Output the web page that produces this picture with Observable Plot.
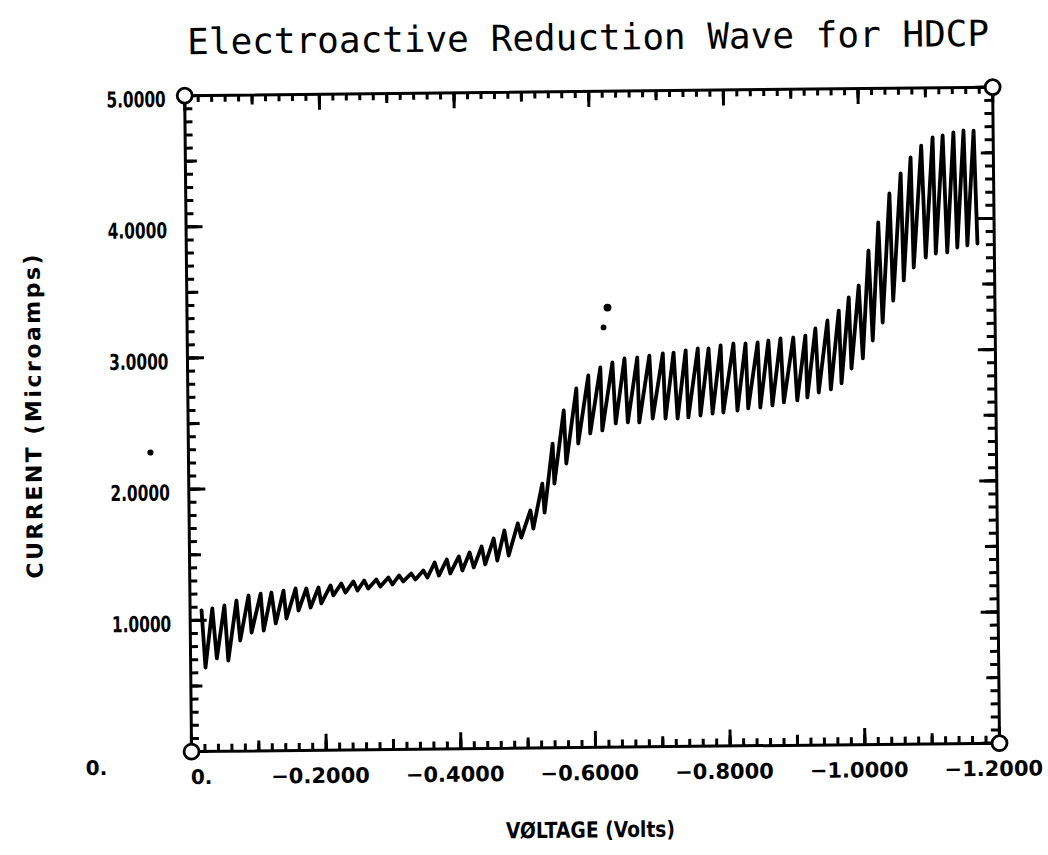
<!DOCTYPE html>
<html>
<head>
<meta charset="utf-8">
<script src="https://cdn.jsdelivr.net/npm/d3@7"></script>
<script src="https://cdn.jsdelivr.net/npm/@observablehq/plot@0.6"></script>
<style>
  html, body { margin: 0; padding: 0; background: #fff; }
  #page {
    position: relative; width: 1048px; height: 855px; background: #fff;
    transform: rotate(-0.6deg); transform-origin: 591.6px 418.9px;
  }
  #page svg { display: block; }
</style>
</head>
<body>
<div id="page"></div>
<script>
// Dropping-mercury polarogram: each drop gives a peak current followed by a fall to a trough.
const peakV = [
  -0.017, -0.033, -0.051, -0.069, -0.087, -0.105, -0.121, -0.139, -0.157, -0.173, -0.191, -0.209, -0.225,
  -0.243, -0.259, -0.277, -0.295, -0.311, -0.329, -0.347, -0.364, -0.382, -0.400, -0.416, -0.434, -0.452, -0.468,
  -0.488, -0.507, -0.525, -0.541, -0.558, -0.577, -0.595, -0.613, -0.631, -0.649, -0.668, -0.686,
  -0.706, -0.722, -0.740, -0.758, -0.774, -0.792, -0.811, -0.829, -0.847, -0.863, -0.881, -0.900, -0.918, -0.933,
  -0.951, -0.968, -0.983, -0.998, -1.013, -1.028, -1.045, -1.062, -1.077, -1.093, -1.110, -1.125, -1.141, -1.156, -1.171
];
const peakI = [
  1.075, 1.089, 1.111, 1.148, 1.185, 1.199, 1.206, 1.220, 1.235, 1.234, 1.241, 1.255, 1.269,
  1.284, 1.290, 1.297, 1.311, 1.326, 1.340, 1.362, 1.422, 1.444, 1.466, 1.495, 1.540, 1.600, 1.660,
  1.713, 1.811, 2.015, 2.319, 2.570, 2.737, 2.835, 2.895, 2.932, 2.962, 2.968, 2.982,
  2.997, 3.003, 3.018, 3.032, 3.031, 3.053, 3.067, 3.066, 3.073, 3.087, 3.102, 3.108, 3.122, 3.175,
  3.235, 3.310, 3.409, 3.499, 3.765, 3.978, 4.198, 4.350, 4.471, 4.561, 4.622, 4.636, 4.658, 4.672, 4.671
];
const troughV = [
  -0.022, -0.039, -0.056, -0.074, -0.091, -0.109, -0.127, -0.143, -0.161, -0.179, -0.195, -0.213, -0.231,
  -0.249, -0.265, -0.283, -0.301, -0.317, -0.335, -0.353, -0.370, -0.387, -0.405, -0.422, -0.439, -0.457, -0.474,
  -0.493, -0.511, -0.528, -0.543, -0.561, -0.579, -0.597, -0.615, -0.635, -0.653, -0.670, -0.690,
  -0.709, -0.727, -0.743, -0.761, -0.779, -0.795, -0.816, -0.832, -0.850, -0.868, -0.885, -0.905, -0.920, -0.937,
  -0.955, -0.971, -0.986, -1.003, -1.018, -1.033, -1.049, -1.065, -1.080, -1.098, -1.113, -1.130, -1.145, -1.160, -1.175
];
const troughI = [
  0.640, 0.708, 0.691, 0.843, 0.903, 0.917, 0.970, 1.007, 1.067, 1.089, 1.119, 1.179, 1.200,
  1.215, 1.229, 1.243, 1.258, 1.280, 1.294, 1.308, 1.322, 1.337, 1.359, 1.381, 1.403, 1.432, 1.469,
  1.605, 1.673, 1.794, 2.014, 2.166, 2.317, 2.393, 2.415, 2.467, 2.474, 2.473, 2.502,
  2.501, 2.500, 2.507, 2.521, 2.535, 2.542, 2.556, 2.571, 2.577, 2.592, 2.614, 2.628, 2.650, 2.687,
  2.709, 2.754, 2.867, 2.943, 3.079, 3.215, 3.382, 3.534, 3.632, 3.707, 3.737, 3.744, 3.781, 3.796, 3.810
];

// Stray pen specks on the sheet
const speckV = [-0.6246, -0.6184, 0.0564];
const speckI = [3.351, 3.200, 2.283];
const speckR = [2.6, 1.4, 1.6];

// Axis tick labels
const xTickValues = [0, -0.2, -0.4, -0.6, -0.8, -1.0, -1.2];
const xTickLabels = ["0.", "\u22120.2000", "\u22120.4000", "\u22120.6000", "\u22120.8000", "\u22121.0000", "\u22121.2000"];
const yTickValues = [0, 1, 2, 3, 4, 5];
const yTickLabels = ["0.", "1.0000", "2.0000", "3.0000", "4.0000", "5.0000"];

const titleText = "Electroactive Reduction Wave for HDCP";
const xLabelText = "V\u00d8LTAGE (Volts)";
const yLabelText = "CURRENT (Microamps)";

// Trace: peak of each drop, then its fall to the trough
const trace = [];
peakV.forEach((v, k) => {
  trace.push({v, i: peakI[k]});
  trace.push({v: troughV[k], i: troughI[k]});
});
const specks = speckV.map((v, k) => ({v, i: speckI[k], r: speckR[k]}));
const xTable = xTickValues.map((v, k) => ({v, label: xTickLabels[k]}));
const yTable = yTickValues.map((v, k) => ({v, label: yTickLabels[k]}));
const corners = [{v: 0, i: 0}, {v: 0, i: 5}, {v: -1.2, i: 0}, {v: -1.2, i: 5}];

// Frame geometry
const W = 1048, H = 855;
const mL = 187.6, mR = 52.4, mT = 90.9, mB = 108.1;
const fw = W - mL - mR, fh = H - mT - mB;

// Tick positions: minor / medium / major
const xMinor = d3.range(0, 61).map(k => -k * 0.02);
const xMedium = d3.range(0, 13).map(k => -k * 0.1);
const xMajor = d3.range(0, 7).map(k => -k * 0.2);
const yMinor = d3.range(0, 51).map(k => k * 0.1);
const yMedium = d3.range(0, 11).map(k => k * 0.5);
const yMajor = d3.range(0, 6).map(k => k);

// Inward ticks on all four sides of the frame
const tickStyle = {stroke: "#000", strokeWidth: 3};
function xTicks(values, len) {
  return [
    Plot.tickX(values, {x: d => d, insetTop: fh - len, ...tickStyle}),
    Plot.tickX(values, {x: d => d, insetBottom: fh - len, ...tickStyle})
  ];
}
function yTicks(values, len) {
  return [
    Plot.tickY(values, {y: d => d, insetRight: fw - len, ...tickStyle}),
    Plot.tickY(values, {y: d => d, insetLeft: fw - len, ...tickStyle})
  ];
}

const labelFont = {fontFamily: "DejaVu Sans", fontWeight: "bold", fill: "#000"};

const chart = Plot.plot({
  width: W,
  height: H,
  marginLeft: mL, marginRight: mR, marginTop: mT, marginBottom: mB,
  style: {background: "#fff", overflow: "visible"},
  x: {domain: [0, -1.2], axis: null},
  y: {domain: [0, 5], axis: null},
  marks: [
    ...xTicks(xMinor, 7), ...xTicks(xMedium, 10), ...xTicks(xMajor, 16),
    ...yTicks(yMinor, 8), ...yTicks(yMedium, 12), ...yTicks(yMajor, 17),
    Plot.frame({stroke: "#000", strokeWidth: 3}),
    Plot.line(trace, {x: "v", y: "i", stroke: "#000", strokeWidth: 3.8, strokeLinejoin: "round", strokeLinecap: "round"}),
    Plot.dot(specks, {x: "v", y: "i", r: "r", fill: "#000", stroke: null}),
    Plot.dot(corners, {x: "v", y: "i", r: 7.5, stroke: "#000", strokeWidth: 2.8, fill: "#fff"}),
    // y tick labels
    Plot.text(yTable.slice(1), {y: "v", text: "label", frameAnchor: "left", textAnchor: "end", lineAnchor: "middle", dx: -19, dy: 4, fontSize: 22, ...labelFont}),
    Plot.text(yTable.slice(0, 1), {y: "v", text: "label", frameAnchor: "left", textAnchor: "start", lineAnchor: "middle", dx: -106, dy: 16, fontSize: 20, ...labelFont}),
    // x tick labels
    Plot.text(xTable.slice(1), {x: "v", text: "label", frameAnchor: "bottom", textAnchor: "middle", lineAnchor: "middle", dx: -6, dy: 26, fontSize: 21, ...labelFont}),
    Plot.text(xTable.slice(0, 1), {x: "v", text: "label", frameAnchor: "bottom", textAnchor: "start", lineAnchor: "middle", dx: -1, dy: 26, fontSize: 20, ...labelFont}),
    // axis titles and chart title
    Plot.text([xLabelText], {frameAnchor: "bottom", textAnchor: "middle", lineAnchor: "middle", dx: -6, dy: 83, fontSize: 22, ...labelFont}),
    Plot.text([yLabelText], {frameAnchor: "left", textAnchor: "middle", lineAnchor: "middle", rotate: -90, dx: -154, dy: -10, fontSize: 22, ...labelFont}),
    Plot.text([titleText], {frameAnchor: "top", textAnchor: "middle", lineAnchor: "middle", dy: -53, fontFamily: "DejaVu Sans Mono", fontSize: 36, fill: "#000"})
  ]
});

// Narrow plotter lettering: squeeze selected labels horizontally about their anchor
function squeeze(texts, sx) {
  d3.select(chart).selectAll("text")
    .filter(function () { return texts.includes(this.textContent); })
    .each(function () {
      const t = this.getAttribute("transform") || "";
      this.setAttribute("transform", `${t} scale(${sx},1)`);
    });
}
squeeze(yTickLabels.slice(1), 0.7);
squeeze([xLabelText], 0.85);

d3.select(chart).selectAll("text")
  .filter(function () { return this.textContent === yLabelText; })
  .attr("letter-spacing", "2.5px");

document.getElementById("page").appendChild(chart);
</script>
</body>
</html>
